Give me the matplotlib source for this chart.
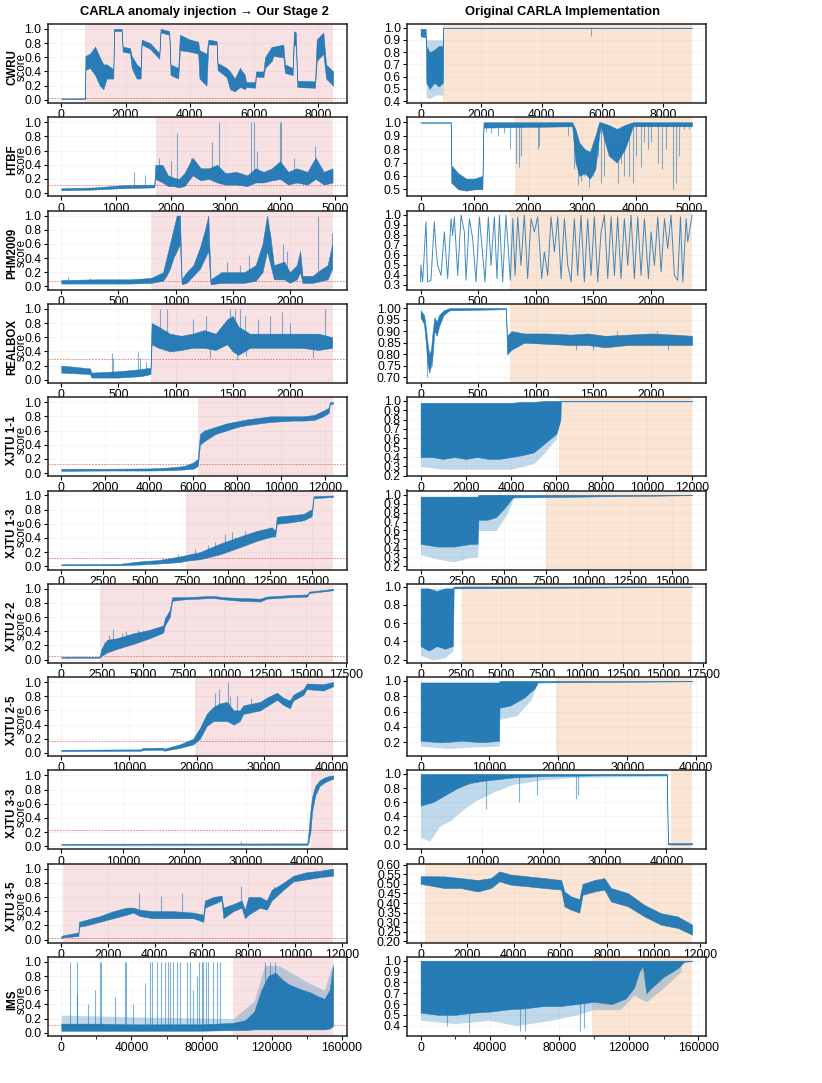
import matplotlib

matplotlib.use("Agg")
import matplotlib.pyplot as plt
import numpy as np
from matplotlib.ticker import MultipleLocator

plt.rcParams["font.family"] = ["Liberation Sans", "DejaVu Sans"]
plt.rcParams["font.size"] = 8

BLUE = "#1f77b4"
PINK = "#f8e1e3"
PEACH = "#fae5d5"

ROWS = ["CWRU", "HTBF", "PHM2009", "REALBOX", "XJTU 1-1", "XJTU 1-3",
        "XJTU 2-2", "XJTU 2-5", "XJTU 3-3", "XJTU 3-5", "IMS"]

# series length and anomaly start (left: our stage 2, right: original CARLA)
LEFT_N = [8460, 4970, 2378, 2378, 12350, 16270, 16680, 40200, 44200, 11620, 155000]
LEFT_START = [750, 1725, 785, 785, 6220, 7480, 2390, 19760, 40650, 90, 97900]
LEFT_THR = [0.02, 0.11, 0.07, 0.295, 0.13, 0.113, 0.056, 0.163, 0.23, 0.028, 0.105]
RIGHT_N = [8970, 5050, 2356, 2356, 12000, 16200, 16800, 39400, 44200, 11650, 156400]
RIGHT_START = [750, 1760, 780, 780, 6110, 7500, 2550, 19600, 40700, 170, 99000]
X_STEP = [2000, 1000, 500, 500, 2000, 2500, 2500, 10000, 10000, 2000, 40000]

# score envelopes (x, low, high), fringes (x, low, high), spikes (x, tip)
CWRU_L = [(0, 0.01, 0.02), (740, 0.01, 0.02), (750, 0.42, 0.62), (890, 0.45, 0.65),
          (1050, 0.35, 0.75), (1200, 0.2, 0.6), (1310, 0.15, 0.5), (1410, 0.3, 0.5),
          (1570, 0.3, 0.45), (1620, 0.3, 0.42), (1640, 0.97, 1.0), (1880, 0.97, 1.0),
          (1910, 0.68, 0.75), (2140, 0.66, 0.73), (2190, 0.45, 0.62), (2345, 0.3, 0.5),
          (2470, 0.3, 0.45), (2500, 0.78, 0.85), (2760, 0.72, 0.8), (3050, 0.58, 0.66),
          (3090, 0.95, 1.0), (3360, 0.92, 0.97), (3400, 0.35, 0.5), (3640, 0.3, 0.45),
          (3690, 0.7, 0.92), (4000, 0.68, 0.85), (4260, 0.65, 0.82), (4300, 0.3, 0.7),
          (4520, 0.2, 0.65), (4575, 0.78, 0.85), (4835, 0.78, 0.83), (4865, 0.42, 0.52),
          (5145, 0.32, 0.45), (5250, 0.15, 0.4), (5400, 0.12, 0.3), (5560, 0.18, 0.45),
          (5715, 0.15, 0.35), (5750, 0.18, 0.25), (6030, 0.17, 0.25), (6060, 0.33, 0.4),
          (6290, 0.32, 0.4), (6340, 0.45, 0.6), (6550, 0.55, 0.75), (6600, 0.62, 0.75),
          (6910, 0.6, 0.78), (6960, 0.38, 0.5), (7200, 0.35, 0.45), (7240, 0.8, 0.97),
          (7300, 0.75, 0.95), (7345, 0.18, 0.27), (7895, 0.17, 0.26), (7950, 0.55, 0.85),
          (8155, 0.65, 0.95), (8240, 0.3, 0.5), (8460, 0.2, 0.4)]
CWRU_R = [(0, 0.93, 0.99), (170, 0.92, 0.99), (190, 0.55, 0.85), (300, 0.5, 0.8),
          (450, 0.55, 0.82), (600, 0.52, 0.85), (740, 0.55, 0.85), (750, 0.997, 1.0),
          (8970, 0.997, 1.0)]
CWRU_R_FR = [(190, 0.43, 0.9), (300, 0.42, 0.9), (500, 0.45, 0.9), (740, 0.45, 0.9)]
CWRU_R_SP = [(5630, 0.93)]

HTBF_L = [(0, 0.04, 0.07), (600, 0.05, 0.08), (1100, 0.07, 0.11), (1700, 0.08, 0.12),
          (1720, 0.2, 0.4), (1850, 0.15, 0.4), (1950, 0.1, 0.25), (2050, 0.1, 0.22),
          (2150, 0.08, 0.2), (2250, 0.1, 0.28), (2400, 0.25, 0.5), (2550, 0.18, 0.35),
          (2700, 0.2, 0.35), (2850, 0.15, 0.4), (3000, 0.12, 0.28), (3200, 0.12, 0.3),
          (3400, 0.1, 0.25), (3550, 0.15, 0.35), (3700, 0.15, 0.3), (3850, 0.18, 0.35),
          (4000, 0.2, 0.45), (4150, 0.12, 0.3), (4300, 0.15, 0.35), (4500, 0.12, 0.3),
          (4650, 0.2, 0.5), (4800, 0.12, 0.3), (4960, 0.15, 0.35)]
HTBF_L_SP = [(1330, 0.3), (1530, 0.25), (1780, 0.5), (2000, 0.45), (2121, 0.85),
             (2380, 0.5), (2750, 0.72), (2890, 1.0), (3470, 1.0), (3520, 1.0),
             (3580, 0.6), (3990, 1.0), (4020, 1.0), (4250, 0.5), (4640, 0.67)]
HTBF_R = [(0, 0.995, 1.0), (560, 0.995, 1.0), (570, 0.55, 0.68), (700, 0.5, 0.62),
          (850, 0.49, 0.58), (1000, 0.5, 0.58), (1150, 0.5, 0.6), (1170, 0.96, 1.0),
          (2820, 0.97, 1.0), (2880, 0.7, 0.95), (2950, 0.6, 0.85), (3050, 0.62, 0.8),
          (3150, 0.58, 0.78), (3250, 0.65, 0.9), (3320, 0.9, 1.0), (3350, 0.97, 1.0),
          (3500, 0.75, 0.98), (3650, 0.7, 0.95), (3800, 0.8, 0.98), (3950, 0.97, 1.0),
          (5050, 0.97, 1.0)]
HTBF_R_SP = [(1218, 0.93), (1310, 0.92), (1434, 0.9), (1558, 0.92), (1664, 0.8),
             (1774, 0.7), (1838, 0.67), (1868, 0.75), (2178, 0.8), (2209, 0.82),
             (2519, 0.97), (2736, 0.9), (2860, 0.65), (2922, 0.53), (2984, 0.56),
             (3046, 0.6), (3139, 0.52), (3201, 0.6), (3294, 0.75), (3356, 0.55),
             (3418, 0.6), (3480, 0.8), (3542, 0.75), (3604, 0.75), (3666, 0.55),
             (3728, 0.7), (3790, 0.6), (3883, 0.6), (3945, 0.55), (4007, 0.75),
             (4100, 0.67), (4162, 0.85), (4236, 0.8), (4286, 0.85), (4410, 0.7),
             (4484, 0.65), (4565, 0.8), (4689, 0.5), (4751, 0.55), (4813, 0.75),
             (4906, 0.95), (4999, 0.95)]

PHM_L = [(0, 0.04, 0.09), (300, 0.04, 0.1), (600, 0.04, 0.1), (785, 0.05, 0.12),
         (890, 0.08, 0.2), (920, 0.15, 0.4), (950, 0.25, 0.6), (980, 0.4, 0.8),
         (1010, 0.5, 1.0), (1038, 0.6, 1.0), (1053, 0.03, 0.1), (1096, 0.05, 0.2),
         (1155, 0.15, 0.3), (1213, 0.25, 0.55), (1257, 0.4, 0.8), (1286, 0.5, 1.0),
         (1306, 0.03, 0.1), (1400, 0.05, 0.2), (1500, 0.05, 0.2), (1600, 0.05, 0.2),
         (1700, 0.08, 0.3), (1760, 0.2, 0.6), (1800, 0.5, 1.0), (1830, 0.3, 0.7),
         (1860, 0.1, 0.3), (1950, 0.1, 0.35), (2000, 0.05, 0.2), (2060, 0.1, 0.3),
         (2090, 0.2, 0.5), (2110, 0.05, 0.15), (2200, 0.05, 0.15), (2280, 0.08, 0.25),
         (2330, 0.1, 0.3), (2370, 0.25, 0.6)]
PHM_L_SP = [(60, 0.13), (250, 0.12), (500, 0.11), (1446, 0.35), (1563, 0.3),
            (1640, 0.45), (1942, 0.6), (1975, 0.5), (2248, 1.0), (2365, 0.75)]
PHM_R_X = [0, 3, 18, 47, 61, 90, 119, 134, 148, 177, 206, 235, 264, 278, 293, 322,
           351, 380, 394, 423, 452, 481, 510, 539, 559, 588, 611, 640, 663, 684, 712,
           741, 779, 800, 820, 843, 871, 900, 929, 958, 987, 1016, 1051, 1074, 1103,
           1132, 1161, 1190, 1219, 1248, 1277, 1306, 1334, 1363, 1392, 1421, 1450,
           1479, 1508, 1537, 1566, 1595, 1624, 1653, 1682, 1710, 1739, 1768, 1797,
           1826, 1855, 1884, 1913, 1942, 1977, 2000, 2029, 2058, 2087, 2116, 2144,
           2173, 2202, 2231, 2255, 2275, 2304, 2318, 2356]
PHM_R_Y = [0.327, 0.493, 0.327, 0.927, 0.327, 0.343, 0.927, 0.66, 0.493, 0.393, 0.827,
           0.36, 0.96, 0.793, 0.977, 0.393, 0.993, 0.827, 0.343, 0.96, 0.76, 0.327,
           0.977, 0.593, 0.327, 0.977, 0.493, 0.977, 0.36, 0.993, 0.327, 0.993, 0.343,
           0.96, 0.393, 0.977, 0.493, 0.993, 0.36, 0.96, 0.827, 0.977, 0.36, 0.627,
           0.393, 0.977, 0.627, 0.977, 0.36, 0.96, 0.493, 0.327, 0.96, 0.393, 0.993,
           0.327, 0.96, 0.393, 0.977, 0.327, 0.827, 0.993, 0.36, 0.977, 0.393, 0.977,
           0.36, 0.96, 0.493, 0.993, 0.36, 0.977, 0.393, 0.96, 0.36, 0.827, 0.493,
           0.977, 0.427, 0.96, 0.66, 0.993, 0.393, 0.343, 0.977, 0.327, 0.96, 0.727,
           0.993]

REAL_L = [(0, 0.1, 0.2), (250, 0.08, 0.16), (265, 0.03, 0.1), (500, 0.03, 0.12),
          (700, 0.05, 0.15), (780, 0.08, 0.17), (790, 0.5, 0.8), (850, 0.45, 0.75),
          (950, 0.4, 0.65), (1050, 0.42, 0.62), (1150, 0.45, 0.65), (1250, 0.45, 0.7),
          (1350, 0.42, 0.65), (1450, 0.5, 0.85), (1500, 0.4, 0.9), (1550, 0.35, 0.75),
          (1650, 0.45, 0.65), (1800, 0.45, 0.65), (1950, 0.45, 0.65), (2100, 0.45, 0.65),
          (2250, 0.42, 0.65), (2370, 0.45, 0.6)]
REAL_L_SP = [(440, 0.38), (455, 0.3), (673, 0.4), (690, 0.3), (745, 0.25), (863, 1.0),
             (921, 1.0), (1155, 0.85), (1270, 0.9), (1300, 0.3), (1475, 1.0),
             (1519, 1.0), (1535, 0.28), (1563, 1.0), (1610, 0.9), (1620, 0.33),
             (1720, 0.85), (1830, 0.9), (1930, 0.95), (2000, 0.8), (2200, 0.3),
             (2310, 1.0)]
REAL_R = [(0, 0.96, 0.99), (30, 0.93, 0.97), (45, 0.85, 0.92), (60, 0.76, 0.85),
          (75, 0.72, 0.8), (90, 0.75, 0.82), (105, 0.8, 0.9), (120, 0.9, 0.96),
          (140, 0.88, 0.94), (160, 0.92, 0.97), (200, 0.97, 0.99), (250, 0.99, 1.0),
          (740, 0.995, 1.0), (750, 0.8, 0.88), (790, 0.82, 0.9), (900, 0.85, 0.89),
          (1100, 0.845, 0.89), (1300, 0.84, 0.885), (1450, 0.84, 0.89),
          (1600, 0.83, 0.88), (1800, 0.84, 0.885), (2000, 0.84, 0.89),
          (2200, 0.84, 0.885), (2356, 0.84, 0.88)]
REAL_R_SP = [(58, 0.7), (95, 0.75), (760, 0.8), (1350, 0.82), (1500, 0.82),
             (1700, 0.9), (2050, 0.9), (2150, 0.82)]

X11_L = [(0, 0.03, 0.06), (2000, 0.035, 0.06), (4000, 0.035, 0.065), (5000, 0.04, 0.08),
         (5600, 0.05, 0.1), (6000, 0.06, 0.15), (6200, 0.1, 0.2), (6300, 0.4, 0.55),
         (6500, 0.45, 0.6), (7000, 0.55, 0.65), (7500, 0.6, 0.7), (8000, 0.65, 0.73),
         (8500, 0.68, 0.76), (9000, 0.7, 0.78), (9500, 0.72, 0.8), (10500, 0.74, 0.8),
         (11000, 0.74, 0.8), (11500, 0.75, 0.82), (11900, 0.8, 0.88),
         (12150, 0.85, 0.92), (12200, 0.97, 1.0), (12350, 0.98, 1.0)]
X11_R = [(0, 0.4, 0.98), (500, 0.4, 0.98), (1000, 0.38, 0.98), (1500, 0.4, 0.98),
         (2000, 0.38, 0.98), (2500, 0.4, 0.98), (3000, 0.38, 0.98), (3500, 0.38, 0.98),
         (4000, 0.4, 0.98), (4500, 0.42, 0.99), (5000, 0.45, 0.99), (5500, 0.55, 1.0),
         (6000, 0.65, 1.0), (6180, 0.8, 1.0), (6200, 0.995, 1.0), (12000, 0.995, 1.0)]
X11_R_FR = [(0, 0.3, 0.98), (1000, 0.27, 0.98), (2500, 0.27, 0.98), (4000, 0.27, 0.98),
            (5000, 0.33, 0.99), (5500, 0.45, 1.0), (6000, 0.6, 1.0), (6180, 0.8, 1.0)]

X13_L = [(0, 0.015, 0.03), (3500, 0.015, 0.035), (4700, 0.025, 0.07), (5900, 0.04, 0.09),
         (7100, 0.06, 0.14), (7500, 0.08, 0.16), (8300, 0.1, 0.2), (9500, 0.17, 0.32),
         (10700, 0.27, 0.42), (11700, 0.36, 0.5), (12600, 0.42, 0.55),
         (12800, 0.42, 0.5), (12900, 0.6, 0.7), (13700, 0.62, 0.72), (14500, 0.65, 0.74),
         (14950, 0.7, 0.8), (15000, 0.72, 0.8), (15100, 0.96, 0.99), (16270, 0.98, 1.0)]
X13_L_SP = [(5000, 0.08), (6000, 0.12), (7000, 0.18), (8000, 0.25), (8800, 0.3),
            (9200, 0.35), (9800, 0.45), (10200, 0.48), (10400, 0.42), (11000, 0.5)]
X13_R = [(0, 0.45, 0.98), (1000, 0.42, 0.98), (2000, 0.42, 0.98), (3000, 0.45, 0.98),
         (3400, 0.45, 0.98), (3450, 0.72, 1.0), (4000, 0.72, 1.0), (4500, 0.75, 1.0),
         (5000, 0.85, 1.0), (5500, 0.97, 1.0), (16200, 0.995, 1.0)]
X13_R_FR = [(0, 0.33, 0.98), (1000, 0.28, 0.98), (2000, 0.25, 0.98), (3000, 0.3, 0.98),
            (3400, 0.3, 0.98), (3450, 0.6, 1.0), (4500, 0.6, 1.0), (5200, 0.8, 1.0),
            (5600, 0.99, 1.0)]

X22_L = [(0, 0.025, 0.04), (2350, 0.025, 0.04), (2450, 0.05, 0.15), (2800, 0.1, 0.28),
         (3400, 0.15, 0.3), (4400, 0.22, 0.37), (5400, 0.3, 0.42), (6250, 0.38, 0.48),
         (6350, 0.48, 0.58), (6650, 0.6, 0.7), (6800, 0.83, 0.88), (7500, 0.85, 0.88),
         (9300, 0.87, 0.9), (10000, 0.85, 0.88), (11000, 0.83, 0.87),
         (12200, 0.82, 0.86), (12600, 0.86, 0.89), (14000, 0.88, 0.91),
         (15100, 0.89, 0.92), (15200, 0.94, 0.96), (16000, 0.96, 0.98),
         (16680, 0.98, 1.0)]
X22_L_SP = [(2600, 0.25), (2900, 0.35), (3200, 0.43), (3700, 0.38), (4000, 0.4),
            (4700, 0.42)]
X22_R = [(0, 0.35, 0.98), (500, 0.3, 0.98), (1000, 0.35, 0.95), (1500, 0.32, 0.98),
         (2000, 0.35, 0.98), (2050, 0.98, 1.0), (16800, 0.995, 1.0)]
X22_R_FR = [(0, 0.25, 0.98), (700, 0.2, 0.98), (1500, 0.22, 0.98), (2000, 0.3, 0.98)]

X25_L = [(0, 0.025, 0.045), (11800, 0.03, 0.05), (12000, 0.04, 0.07), (15000, 0.045, 0.075),
         (15200, 0.03, 0.06), (17500, 0.07, 0.12), (19500, 0.12, 0.2), (20500, 0.2, 0.35),
         (21500, 0.38, 0.55), (22500, 0.45, 0.65), (23500, 0.45, 0.7), (24500, 0.45, 0.72),
         (25500, 0.4, 0.6), (26400, 0.45, 0.6), (26900, 0.55, 0.67), (29400, 0.6, 0.72),
         (30400, 0.66, 0.78), (31900, 0.75, 0.85), (32800, 0.68, 0.78),
         (33800, 0.63, 0.74), (34300, 0.74, 0.82), (35800, 0.82, 0.9),
         (36300, 0.9, 0.98), (38700, 0.88, 0.97), (40200, 0.94, 1.0)]
X25_L_SP = [(22800, 0.85), (23300, 0.9), (24600, 1.0), (25000, 0.8), (26000, 0.8),
            (28000, 0.78)]
X25_R = [(0, 0.22, 0.98), (3000, 0.2, 0.98), (6000, 0.22, 0.98), (9000, 0.2, 0.98),
         (11400, 0.22, 0.98), (11450, 0.65, 1.0), (13000, 0.68, 1.0), (15000, 0.78, 1.0),
         (16500, 0.9, 1.0), (17000, 0.98, 1.0), (39400, 0.995, 1.0)]
X25_R_FR = [(0, 0.15, 0.98), (4000, 0.12, 0.98), (8000, 0.14, 0.98), (11400, 0.15, 0.98),
            (11450, 0.5, 1.0), (14000, 0.55, 1.0), (16000, 0.75, 1.0), (17000, 0.97, 1.0)]

X33_L = [(0, 0.02, 0.035), (40000, 0.02, 0.04), (40200, 0.05, 0.2), (40500, 0.2, 0.5),
         (40800, 0.5, 0.7), (41300, 0.72, 0.85), (42000, 0.85, 0.93), (42800, 0.9, 0.97),
         (43500, 0.93, 0.99), (44200, 0.95, 1.0)]
X33_L_SP = [(29300, 0.08)]
X33_R = [(0, 0.55, 1.0), (2000, 0.6, 1.0), (4000, 0.7, 1.0), (6000, 0.8, 1.0),
         (8000, 0.87, 1.0), (10000, 0.9, 1.0), (13000, 0.93, 1.0), (15000, 0.95, 1.0),
         (20000, 0.97, 1.0), (30000, 0.98, 1.0), (40100, 0.98, 1.0), (40250, 0.0, 0.02),
         (44200, 0.0, 0.02)]
X33_R_FR = [(0, 0.1, 1.0), (1500, 0.05, 1.0), (3000, 0.25, 1.0), (5000, 0.35, 1.0),
            (7000, 0.5, 1.0), (9000, 0.62, 1.0), (12000, 0.75, 1.0), (15000, 0.85, 1.0),
            (20000, 0.92, 1.0), (25000, 0.95, 1.0), (40100, 0.97, 1.0)]
X33_R_SP = [(10600, 0.5), (16000, 0.6), (19000, 0.7), (25300, 0.65), (25600, 0.7)]

X35_L = [(0, 0.02, 0.05), (85, 0.03, 0.06), (730, 0.05, 0.1), (755, 0.18, 0.25),
         (1080, 0.2, 0.28), (1650, 0.25, 0.33), (2220, 0.3, 0.4), (2790, 0.35, 0.45),
         (3080, 0.38, 0.45), (3360, 0.33, 0.42), (3930, 0.3, 0.4), (4790, 0.3, 0.4),
         (5640, 0.3, 0.38), (6070, 0.25, 0.35), (6140, 0.45, 0.55), (6500, 0.5, 0.6),
         (6850, 0.55, 0.62), (6930, 0.3, 0.45), (7350, 0.4, 0.5), (7710, 0.45, 0.55),
         (7850, 0.3, 0.42), (8000, 0.35, 0.6), (8490, 0.45, 0.6), (8780, 0.42, 0.55),
         (8990, 0.55, 0.7), (9490, 0.7, 0.8), (9920, 0.82, 0.9), (10490, 0.85, 0.95),
         (11060, 0.88, 0.97), (11620, 0.9, 1.0)]
X35_L_SP = [(3330, 0.65), (4250, 0.62), (5180, 0.65), (7700, 0.75), (9100, 0.75)]
X35_R = [(0, 0.5, 0.54), (1020, 0.478, 0.539), (1730, 0.478, 0.53), (2450, 0.46, 0.52),
         (3020, 0.478, 0.53), (3380, 0.513, 0.565), (3880, 0.495, 0.548),
         (4600, 0.487, 0.539), (5310, 0.478, 0.53), (6030, 0.47, 0.52),
         (6170, 0.383, 0.46), (6450, 0.365, 0.435), (6810, 0.35, 0.42),
         (6950, 0.443, 0.5), (7460, 0.46, 0.52), (7880, 0.47, 0.53), (8170, 0.408, 0.478),
         (8890, 0.383, 0.452), (9600, 0.33, 0.39), (10310, 0.287, 0.347),
         (11030, 0.27, 0.33), (11650, 0.235, 0.287)]

IMS_L = [(0, 0.03, 0.13), (20000, 0.03, 0.13), (40000, 0.03, 0.12), (60000, 0.03, 0.12),
         (80000, 0.03, 0.12), (98000, 0.04, 0.14), (105000, 0.04, 0.18),
         (110000, 0.05, 0.3), (114000, 0.05, 0.6), (118000, 0.05, 0.8),
         (122000, 0.05, 0.85), (126000, 0.05, 0.75), (130000, 0.05, 0.68),
         (136000, 0.05, 0.62), (142000, 0.05, 0.57), (146000, 0.05, 0.52),
         (150000, 0.05, 0.48), (153000, 0.06, 0.6), (155000, 0.1, 0.95)]
IMS_L_FR = [(0, 0.02, 0.25), (50000, 0.02, 0.22), (98000, 0.03, 0.2), (110000, 0.04, 0.45),
            (116000, 0.04, 0.95), (124000, 0.04, 0.95), (140000, 0.04, 0.72),
            (150000, 0.04, 0.6), (155000, 0.08, 1.0)]
IMS_L_SP = [(4940, 1.0), (8745, 0.55), (9120, 1.0), (15400, 0.4), (19200, 0.6),
            (22050, 1.0), (22620, 1.0), (30600, 0.5), (36310, 1.0), (36880, 1.0),
            (41060, 0.4), (47700, 0.7), (50570, 1.0), (51520, 1.0), (54370, 1.0),
            (56650, 1.0), (59120, 1.0), (61020, 1.0), (61970, 1.0), (63870, 1.0),
            (65770, 1.0), (67680, 1.0), (71480, 1.0), (73380, 1.0), (75300, 0.6),
            (77200, 0.8), (78700, 1.0), (80030, 1.0), (80980, 1.0), (82500, 1.0),
            (83840, 1.0), (86690, 1.0), (88590, 1.0), (90490, 1.0), (116000, 1.0),
            (119000, 1.0), (122000, 1.0)]
IMS_R = [(0, 0.52, 1.0), (10000, 0.5, 1.0), (20000, 0.5, 1.0), (30000, 0.52, 1.0),
         (40000, 0.53, 1.0), (50000, 0.55, 1.0), (60000, 0.56, 1.0), (70000, 0.58, 1.0),
         (80000, 0.58, 1.0), (90000, 0.6, 1.0), (100000, 0.62, 1.0), (110000, 0.6, 1.0),
         (118000, 0.65, 1.0), (123000, 0.75, 1.0), (126000, 0.9, 1.0), (128000, 0.95, 1.0),
         (130000, 0.7, 1.0), (133000, 0.75, 1.0), (140000, 0.85, 1.0),
         (148000, 0.93, 1.0), (152000, 0.99, 1.0), (156400, 0.995, 1.0)]
IMS_R_FR = [(0, 0.45, 1.0), (20000, 0.42, 1.0), (40000, 0.45, 1.0), (55000, 0.4, 1.0),
            (75000, 0.45, 1.0), (90000, 0.5, 1.0), (100000, 0.55, 1.0),
            (115000, 0.55, 1.0), (123000, 0.68, 1.0), (130000, 0.62, 1.0),
            (140000, 0.75, 1.0), (150000, 0.9, 1.0)]
IMS_R_SP = [(15000, 0.4), (28000, 0.33), (57000, 0.35), (60000, 0.35), (92000, 0.35),
            (94000, 0.38)]

# (band, fringe, spikes) per row
LEFT_SERIES = [(CWRU_L, None, None), (HTBF_L, None, HTBF_L_SP), (PHM_L, None, PHM_L_SP),
               (REAL_L, None, REAL_L_SP), (X11_L, None, None), (X13_L, None, X13_L_SP),
               (X22_L, None, X22_L_SP), (X25_L, None, X25_L_SP), (X33_L, None, X33_L_SP),
               (X35_L, None, X35_L_SP), (IMS_L, IMS_L_FR, IMS_L_SP)]
RIGHT_SERIES = [(CWRU_R, CWRU_R_FR, CWRU_R_SP), (HTBF_R, None, HTBF_R_SP), None,
                (REAL_R, None, REAL_R_SP), (X11_R, X11_R_FR, None), (X13_R, X13_R_FR, None),
                (X22_R, X22_R_FR, None), (X25_R, X25_R_FR, None), (X33_R, X33_R_FR, X33_R_SP),
                (X35_R, None, None), (IMS_R, IMS_R_FR, IMS_R_SP)]
RIGHT_YLIM = [(0.385, 1.03), (0.448, 1.037), (0.25, 1.04), (0.676, 1.018), (0.195, 1.04),
              (0.163, 1.048), (0.167, 1.03), (0.02, 1.05), (-0.07, 1.05), (0.193, 0.605),
              (0.305, 1.034)]
RIGHT_YSTEP = [0.1, 0.1, 0.1, 0.05, 0.1, 0.1, 0.2, 0.2, 0.2, 0.05, 0.1]


def draw_series(ax, band, fringe=None, spikes=None):
    x, lo, hi = (np.array(v, dtype=float) for v in zip(*band))
    if fringe is not None:
        fx, flo, fhi = (np.array(v, dtype=float) for v in zip(*fringe))
        ax.fill_between(fx, flo, fhi, color=BLUE, alpha=0.28, lw=0, zorder=2)
    ax.fill_between(x, lo, hi, color=BLUE, alpha=0.95, lw=0.35, zorder=2.5)
    if spikes is not None:
        sx, sy = (np.array(v, dtype=float) for v in zip(*spikes))
        base = np.interp(sx, x, (lo + hi) / 2)
        ax.vlines(sx, base, sy, color=BLUE, lw=0.8, alpha=0.55, zorder=2.4)


def style_axis(ax, xstep):
    for sp in ax.spines.values():
        sp.set_linewidth(1.1)
        sp.set_color("#222222")
    ax.xaxis.set_major_locator(MultipleLocator(xstep))
    ax.tick_params(labelsize=8.7, length=3, width=0.8, pad=1.5)
    ax.grid(True, color="#b0b0b0", alpha=0.18, lw=0.5)


fig = plt.figure(figsize=(8.22, 10.83), dpi=100)
W, H = 822.0, 1083.0

for i, name in enumerate(ROWS):
    top = 24 + i * 93.3
    bottom = 1 - (top + 79) / H
    axl = fig.add_axes([47.7 / W, bottom, 299 / W, 79 / H])
    axr = fig.add_axes([407 / W, bottom, 298.7 / W, 79 / H])

    # left: our stage 2
    n = LEFT_N[i]
    axl.axvspan(LEFT_START[i], n, color=PINK, lw=0, zorder=0)
    axl.axhline(LEFT_THR[i], color="#e05050", lw=0.6, ls=(0, (2, 1.5)), alpha=0.8, zorder=2.2)
    band, fringe, spikes = LEFT_SERIES[i]
    draw_series(axl, band, fringe, spikes)
    axl.set_xlim(-0.05 * n, 1.05 * n)
    axl.set_ylim(-0.045, 1.07)
    axl.yaxis.set_major_locator(MultipleLocator(0.2))
    style_axis(axl, X_STEP[i])
    axl.text(-0.119, 0.46, name, transform=axl.transAxes, rotation=90, ha="center",
             va="center", fontsize=8.3, fontweight="bold")
    axl.text(-0.087, 0.46, "score", transform=axl.transAxes, rotation=90, ha="center",
             va="center", fontsize=8.3)

    # right: original CARLA
    n = RIGHT_N[i]
    axr.axvspan(RIGHT_START[i], n, color=PEACH, lw=0, zorder=0)
    if RIGHT_SERIES[i] is None:
        axr.plot(PHM_R_X, PHM_R_Y, color=BLUE, lw=0.7, alpha=0.85, zorder=2.5)
    else:
        band, fringe, spikes = RIGHT_SERIES[i]
        draw_series(axr, band, fringe, spikes)
    axr.set_xlim(-0.05 * n, 1.05 * n)
    axr.set_ylim(*RIGHT_YLIM[i])
    axr.yaxis.set_major_locator(MultipleLocator(RIGHT_YSTEP[i]))
    style_axis(axr, X_STEP[i])

    if name == "IMS":
        for ax in (axl, axr):
            ax.xaxis.set_minor_locator(MultipleLocator(20000))
            ax.tick_params(which="minor", length=2, width=0.6)

fig.text(204 / W, 1 - 12.5 / H, "CARLA anomaly injection \u2192 Our Stage 2",
         ha="center", va="center", fontsize=9.3, fontweight="bold")
fig.text(562 / W, 1 - 12.5 / H, "Original CARLA Implementation",
         ha="center", va="center", fontsize=9.3, fontweight="bold")

fig.savefig("out.png", dpi=100)
